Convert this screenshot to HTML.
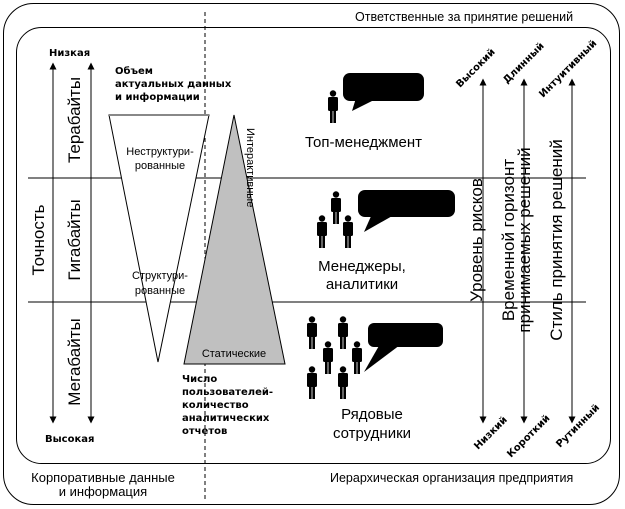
<!DOCTYPE html>
<html><head><meta charset="utf-8"><style>
html,body{margin:0;padding:0;background:#fff}
svg{display:block}
text{font-family:"Liberation Sans","DejaVu Sans",sans-serif;fill:#000}
.b{font-weight:bold;font-family:"DejaVu Sans","Liberation Sans",sans-serif;font-size:10px}
</style></head><body>
<svg width="625" height="509" viewBox="0 0 625 509" xmlns="http://www.w3.org/2000/svg">
<defs>
<marker id="ah" viewBox="0 0 10 10" refX="5" refY="5" markerWidth="7" markerHeight="7" orient="auto-start-reverse"><path d="M0,0 L10,5 L0,10 z" fill="#000"/></marker>
<g id="p">
<circle cx="6" cy="3.5" r="3.2" fill="#000"/>
<rect x="1" y="7" width="10" height="14" rx="1.5" fill="#000"/>
<rect x="3" y="19" width="2.6" height="14" fill="#000"/>
<rect x="6.4" y="19" width="2.6" height="14" fill="#000"/>
</g>
</defs>
<rect x="3.5" y="3.5" width="616" height="501" rx="30" fill="none" stroke="#000" stroke-width="1"/>
<rect x="16.5" y="27.5" width="594" height="436" rx="25" fill="none" stroke="#000" stroke-width="1"/>
<line x1="205" y1="12" x2="205" y2="502" stroke="#000" stroke-dasharray="4,3"/>
<line x1="28" y1="178" x2="586" y2="178" stroke="#000"/>
<line x1="28" y1="302" x2="586" y2="302" stroke="#000"/>
<line x1="53" y1="66" x2="53" y2="420" stroke="#000" marker-start="url(#ah)" marker-end="url(#ah)"/>
<line x1="91" y1="66" x2="91" y2="420" stroke="#000" marker-start="url(#ah)" marker-end="url(#ah)"/>
<text class="b" x="49" y="56">Низкая</text>
<text class="b" x="45" y="442">Высокая</text>
<text font-size="17" transform="translate(44,240) rotate(-90)" text-anchor="middle">Точность</text>
<text font-size="17" transform="translate(80,120) rotate(-90)" text-anchor="middle">Терабайты</text>
<text font-size="17" transform="translate(80,240) rotate(-90)" text-anchor="middle">Гигабайты</text>
<text font-size="17" transform="translate(80,362) rotate(-90)" text-anchor="middle">Мегабайты</text>
<text class="b" x="115" y="74">Объем</text>
<text class="b" x="115" y="87">актуальных данных</text>
<text class="b" x="115" y="100">и информации</text>
<polygon points="109,115 209,115 158,362" fill="#fff" stroke="#000"/>
<line x1="109" y1="115" x2="209" y2="115" stroke="#888" stroke-width="2"/>
<text font-size="11" x="160" y="155" text-anchor="middle">Неструктури-</text>
<text font-size="11" x="160" y="169" text-anchor="middle">рованные</text>
<text font-size="11" x="160" y="279" text-anchor="middle">Структури-</text>
<text font-size="11" x="160" y="294" text-anchor="middle">рованные</text>
<polygon points="234,115 285,364 184,364" fill="#c0c0c0" stroke="#000"/>
<text font-size="11" x="234" y="357" text-anchor="middle">Статические</text>
<text font-size="11" transform="translate(247,128) rotate(90)">Интерактивные</text>
<text class="b" x="182" y="382">Число</text>
<text class="b" x="182" y="395">пользователей-</text>
<text class="b" x="182" y="408">количество</text>
<text class="b" x="182" y="421">аналитических</text>
<text class="b" x="182" y="434">отчетов</text>
<use href="#p" x="327" y="90"/>
<rect x="343" y="73" width="81" height="28" rx="7" fill="#000"/>
<polygon points="356,98 352,111 376,99" fill="#000"/>
<text font-size="15" x="305" y="147">Топ-менеджмент</text>
<use href="#p" x="330" y="191"/>
<use href="#p" x="316" y="215"/>
<use href="#p" x="342" y="215"/>
<rect x="358" y="190" width="97" height="27" rx="7" fill="#000"/>
<polygon points="372,214 364,232 394,215" fill="#000"/>
<text font-size="15" x="362" y="271" text-anchor="middle">Менеджеры,</text>
<text font-size="15" x="362" y="289" text-anchor="middle">аналитики</text>
<use href="#p" x="306" y="316"/>
<use href="#p" x="337" y="316"/>
<use href="#p" x="322" y="341"/>
<use href="#p" x="351" y="341"/>
<use href="#p" x="306" y="366"/>
<use href="#p" x="337" y="366"/>
<rect x="368" y="323" width="75" height="24" rx="6" fill="#000"/>
<polygon points="380,344 364,372 400,345" fill="#000"/>
<text font-size="15" x="372" y="419" text-anchor="middle">Рядовые</text>
<text font-size="15" x="372" y="438" text-anchor="middle">сотрудники</text>
<line x1="483" y1="82" x2="483" y2="420" stroke="#000" marker-start="url(#ah)" marker-end="url(#ah)"/>
<line x1="524" y1="82" x2="524" y2="420" stroke="#000" marker-start="url(#ah)" marker-end="url(#ah)"/>
<line x1="572" y1="82" x2="572" y2="420" stroke="#000" marker-start="url(#ah)" marker-end="url(#ah)"/>
<text font-size="17" transform="translate(482,240) rotate(-90)" text-anchor="middle">Уровень рисков</text>
<text font-size="17" transform="translate(514,240) rotate(-90)" text-anchor="middle">Временной горизонт</text>
<text font-size="17" transform="translate(530,240) rotate(-90)" text-anchor="middle">принимаемых решений</text>
<text font-size="17" transform="translate(562,240) rotate(-90)" text-anchor="middle">Стиль принятия решений</text>
<text class="b" transform="translate(460,88) rotate(-45)">Высокий</text>
<text class="b" transform="translate(507,84) rotate(-45)">Длинный</text>
<text class="b" transform="translate(543,98) rotate(-45)">Интуитивный</text>
<text class="b" transform="translate(478,450) rotate(-45)">Низкий</text>
<text class="b" transform="translate(511,458) rotate(-45)">Короткий</text>
<text class="b" transform="translate(560,448) rotate(-45)">Рутинный</text>
<text font-size="12.5" x="355" y="21">Ответственные за принятие решений</text>
<text font-size="12.5" x="330" y="482">Иерархическая организация предприятия</text>
<text font-size="13" x="103" y="482" text-anchor="middle">Корпоративные данные</text>
<text font-size="13" x="103" y="496" text-anchor="middle">и информация</text>
</svg>
</body></html>
